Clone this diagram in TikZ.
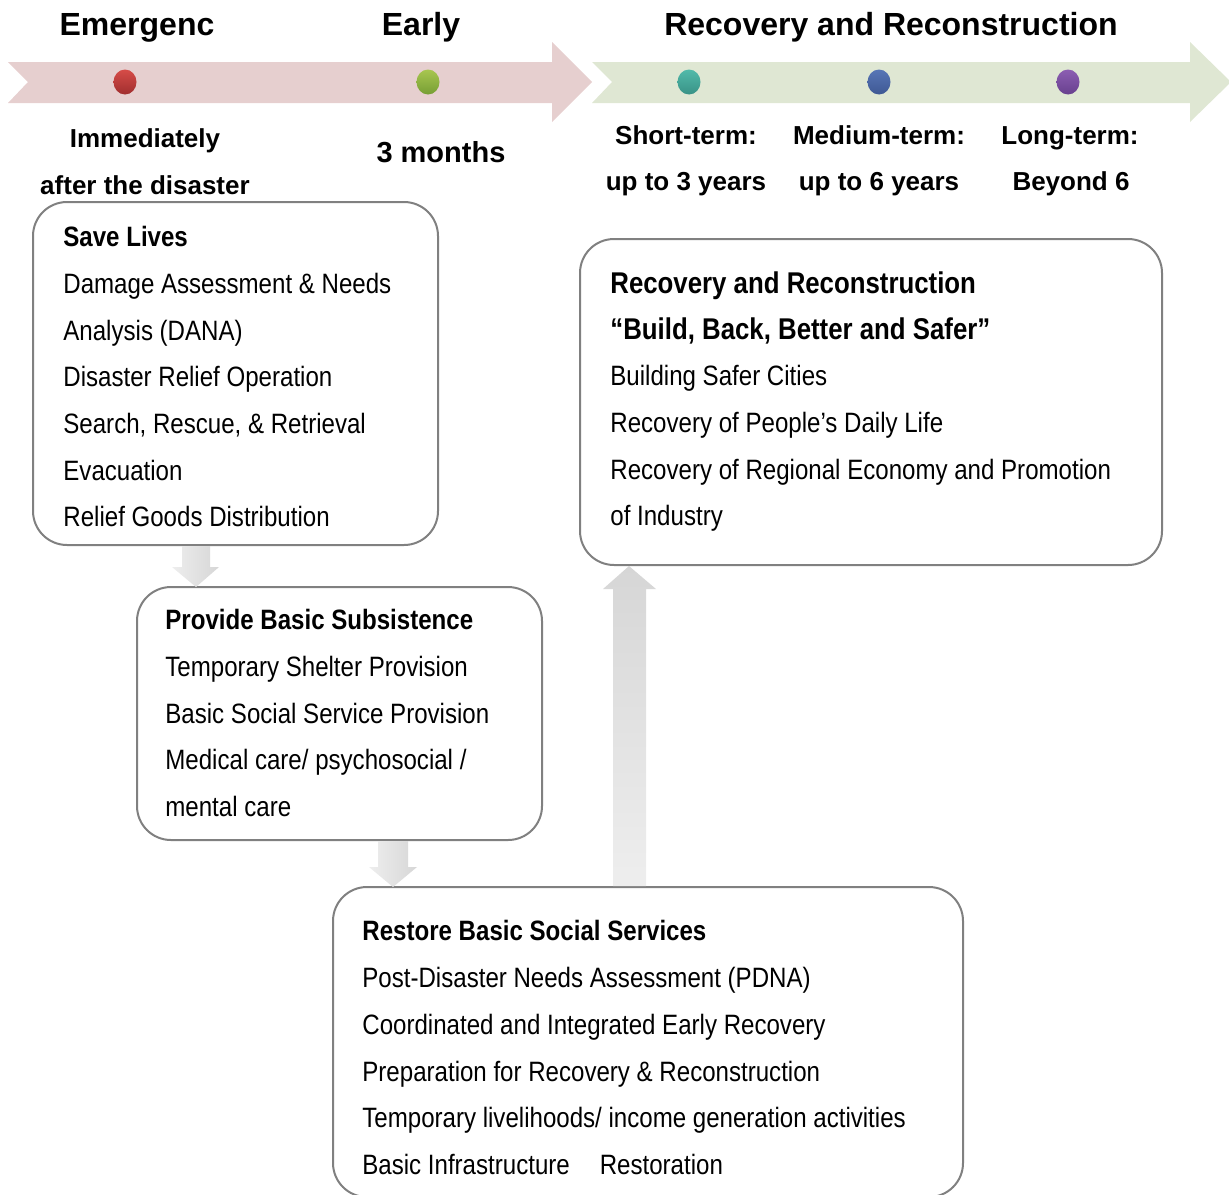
\documentclass[tikz,border=0pt]{standalone}
\usepackage{fontspec}
\setmainfont{Liberation Sans}
\newfontfamily\narrowfont{Liberation Sans}[FakeStretch=0.86]
\usetikzlibrary{shapes.geometric}

\definecolor{boxgray}{HTML}{808080}
\definecolor{pinkband}{HTML}{E6CFCF}
\definecolor{greenband}{HTML}{DFE7D3}
\definecolor{arrowdark}{HTML}{D6D6D6}
\definecolor{arrowlight}{HTML}{EEEEEE}

\begin{document}
\begin{tikzpicture}[x=0.5pt,y=-0.5pt,
  box/.style={draw=boxgray, line width=1pt, rounded corners=17pt, fill=white,
              inner sep=0pt, rectangle},
  body/.style={anchor=base west, inner sep=0pt,
               font=\narrowfont\fontsize{14pt}{16pt}\selectfont},
  bodytitle/.style={body, font=\narrowfont\bfseries\fontsize{14pt}{16pt}\selectfont},
  bigtitle/.style={body, font=\narrowfont\bfseries\fontsize{15pt}{17pt}\selectfont},
  phase/.style={anchor=base, inner sep=0pt, font=\bfseries\fontsize{16pt}{18pt}\selectfont},
  when/.style={anchor=base, inner sep=0pt, font=\bfseries\fontsize{13pt}{15pt}\selectfont},
  whenbig/.style={anchor=base, inner sep=0pt, font=\bfseries\fontsize{14.5pt}{16pt}\selectfont},
  dot/.style={ellipse, minimum width=11.5pt, minimum height=12.5pt, inner sep=0pt}
]
\useasboundingbox (0,0) rectangle (1229,1194);

% timeline bands
\fill[pinkband] (8,62) -- (552,62) -- (552,42) -- (592,82) -- (552,122)
  -- (552,103) -- (8,103) -- (28,82) -- cycle;
\fill[greenband] (592,62) -- (1190,62) -- (1190,42) -- (1231,82) -- (1190,122)
  -- (1190,103) -- (592,103) -- (612,82) -- cycle;

% timeline markers
\node[dot, top color={rgb,255:red,214;green,76;blue,72}, bottom color={rgb,255:red,160;green,46;blue,46}] (d1) at (125,82) {};
\node[dot, top color={rgb,255:red,168;green,198;blue,80}, bottom color={rgb,255:red,118;green,158;blue,52}] (d2) at (428,82) {};
\node[dot, top color={rgb,255:red,82;green,186;blue,170}, bottom color={rgb,255:red,56;green,146;blue,134}] (d3) at (689,82) {};
\node[dot, top color={rgb,255:red,88;green,118;blue,182}, bottom color={rgb,255:red,62;green,88;blue,148}] (d4) at (879,82) {};
\node[dot, top color={rgb,255:red,140;green,94;blue,178}, bottom color={rgb,255:red,104;green,64;blue,142}] (d5) at (1068,82) {};

% phase headings
\node[phase] (p1) at (137,35) {Emergenc};
\node[phase] (p2) at (421,35) {Early};
\node[phase] (p3) at (891,35) {Recovery and Reconstruction};

% time spans
\node[when] (w1a) at (145,147) {Immediately};
\node[when] (w1b) at (145,194) {after the disaster};
\node[whenbig] (w2) at (441,162) {3 months};
\node[when] (w3a) at (686,144) {Short-term:};
\node[when] (w3b) at (686,190) {up to 3 years};
\node[when] (w4a) at (879,144) {Medium-term:};
\node[when] (w4b) at (879,190) {up to 6 years};
\node[when] (w5a) at (1070,144) {Long-term:};
\node[when] (w5b) at (1071,190) {Beyond 6};

% boxes
\node[box, minimum width=202.5pt, minimum height=171.5pt] (b1) at (235.5,373.5) {};
\node[box, minimum width=202.5pt, minimum height=126.5pt] (b2) at (339.5,713.5) {};
\node[box, minimum width=315pt, minimum height=155pt] (b3) at (648,1042) {};
\node[box, minimum width=291pt, minimum height=163pt] (b4) at (871,402) {};

% block arrows between boxes
\shade[left color=arrowlight, right color=arrowdark]
  (182,546) -- (210,546) -- (210,567) -- (219,567) -- (196,587)
  -- (172,567) -- (182,567) -- cycle;
\shade[left color=arrowlight, right color=arrowdark]
  (378,841) -- (408,841) -- (408,867) -- (417,867) -- (393,887)
  -- (369,867) -- (378,867) -- cycle;
\shade[top color=arrowdark, bottom color=arrowlight]
  (613,886) -- (613,589) -- (603,589) -- (629,566) -- (656,589)
  -- (646,589) -- (646,886) -- cycle;

% box 1
\node[bodytitle] (t1) at (63,246) {Save Lives};
\node[body] (l11) at (63,293) {Damage Assessment \& Needs};
\node[body] (l12) at (63,340) {Analysis (DANA)};
\node[body] (l13) at (63,386) {Disaster Relief Operation};
\node[body] (l14) at (63,433) {Search, Rescue, \& Retrieval};
\node[body] (l15) at (63,480) {Evacuation};
\node[body] (l16) at (63,526) {Relief Goods Distribution};

% box 2
\node[bodytitle] (t2) at (165,629) {Provide Basic Subsistence};
\node[body] (l21) at (165,676) {Temporary Shelter Provision};
\node[body] (l22) at (165,723) {Basic Social Service Provision};
\node[body] (l23) at (165,769) {Medical care/ psychosocial /};
\node[body] (l24) at (165,816) {mental care};

% box 3
\node[bodytitle] (t3) at (362,940) {Restore Basic Social Services};
\node[body] (l31) at (362,987) {Post-Disaster Needs Assessment (PDNA)};
\node[body] (l32) at (362,1034) {Coordinated and Integrated Early Recovery};
\node[body] (l33) at (362,1081) {Preparation for Recovery \& Reconstruction};
\node[body] (l34) at (362,1127) {Temporary livelihoods/ income generation activities};
\node[body] (l35) at (362,1174) {Basic Infrastructure\hspace{15pt}Restoration};

% box 4
\node[bigtitle] (t4a) at (610,293) {Recovery and Reconstruction};
\node[bigtitle] (t4b) at (610,339) {“Build, Back, Better and Safer”};
\node[body] (l41) at (610,385) {Building Safer Cities};
\node[body] (l42) at (610,432) {Recovery of People’s Daily Life};
\node[body] (l43) at (610,479) {Recovery of Regional Economy and Promotion};
\node[body] (l44) at (610,525) {of Industry};
\end{tikzpicture}
\end{document}
